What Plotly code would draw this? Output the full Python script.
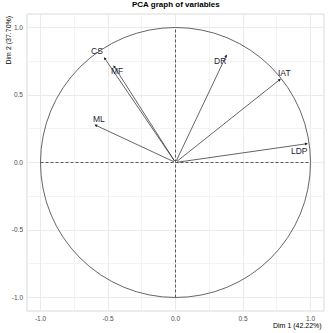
import plotly.graph_objects as go

variables = ["CS", "MF", "ML", "DR", "IAT", "LDP"]
dim1 = [-0.53, -0.46, -0.60, 0.38, 0.78, 0.98]
dim2 = [0.78, 0.72, 0.28, 0.80, 0.62, 0.14]
title = "PCA graph of variables"
xlab = "Dim 1 (42.22%)"
ylab = "Dim 2 (37.70%)"
tick_vals = [-1.0, -0.5, 0.0, 0.5, 1.0]
tick_text = ["-1.0", "-0.5", "0.0", "0.5", "1.0"]

# label pixel offsets (style)
label_shift = {"CS": (-7, 6), "MF": (4, -6), "ML": (4, 6), "DR": (-7, -6), "IAT": (4, 6), "LDP": (-8, -7)}

fig = go.Figure()
fig.add_trace(go.Scatter(x=[0], y=[0], mode="markers", marker=dict(size=1, color="rgba(0,0,0,0)"),
                         hoverinfo="skip", showlegend=False))

shapes = [
    dict(type="circle", xref="x", yref="y", x0=-1, y0=-1, x1=1, y1=1,
         line=dict(color="#555555", width=0.9)),
    dict(type="line", xref="x", yref="y", x0=-1, y0=0, x1=1, y1=0,
         line=dict(color="#333333", width=0.8, dash="3px,2px")),
    dict(type="line", xref="x", yref="y", x0=0, y0=-1, x1=0, y1=1,
         line=dict(color="#333333", width=0.8, dash="3px,2px")),
    dict(type="rect", xref="paper", yref="paper", x0=0, y0=0, x1=1, y1=1,
         line=dict(color="#d9d9d9", width=1), layer="below"),
]

annotations = []
for v, x, y in zip(variables, dim1, dim2):
    annotations.append(dict(x=x, y=y, ax=0, ay=0, xref="x", yref="y", axref="x", ayref="y",
                            showarrow=True, arrowhead=2, arrowsize=0.8, arrowwidth=0.7,
                            arrowcolor="#222222", text=""))
    dx, dy = label_shift[v]
    annotations.append(dict(x=x, y=y, xref="x", yref="y", text=v, showarrow=False,
                            xshift=dx, yshift=dy,
                            font=dict(family="Liberation Sans, Arial", size=8.5, color="#1f2133")))

annotations.append(dict(x=0.5, y=1, xref="paper", yref="paper", yshift=3, text="<b>" + title + "</b>",
                        showarrow=False, xanchor="center", yanchor="bottom",
                        font=dict(family="Liberation Sans, Arial", size=8, color="#000000")))
annotations.append(dict(x=1, y=0, xref="paper", yref="paper", yshift=-9, text=xlab,
                        showarrow=False, xanchor="right", yanchor="top",
                        font=dict(family="Liberation Sans, Arial", size=7, color="#000000")))
annotations.append(dict(x=0, y=1, xref="paper", yref="paper", xshift=-19, text=ylab, textangle=-90,
                        showarrow=False, xanchor="center", yanchor="top",
                        font=dict(family="Liberation Sans, Arial", size=7, color="#000000")))

axis_common = dict(
    range=[-1.1, 1.1], tickvals=tick_vals, ticktext=tick_text, showgrid=True,
    gridcolor="#ebebeb", gridwidth=0.8, zeroline=False, showline=False, ticks="",
    tickfont=dict(family="Liberation Sans, Arial", size=6.5, color="#4d4d4d"),
    minor=dict(dtick=0.25, tick0=0, showgrid=True, gridcolor="#f3f3f3", gridwidth=0.6),
)

fig.update_layout(
    width=328, height=333,
    margin=dict(l=27, r=4, t=14, b=22),
    plot_bgcolor="white", paper_bgcolor="white",
    shapes=shapes, annotations=annotations, showlegend=False,
    xaxis=dict(**axis_common, ticklabelstandoff=2),
    yaxis=dict(**axis_common, scaleanchor="x", scaleratio=1, ticklabelstandoff=3),
)

fig.write_html("out.html")
